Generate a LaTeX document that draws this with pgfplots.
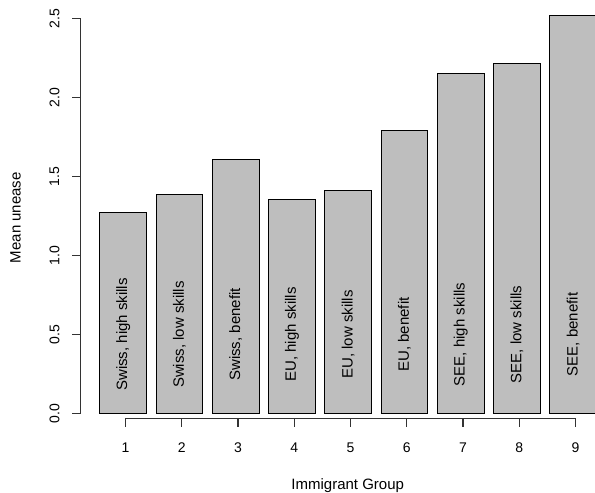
\documentclass[border=0pt]{standalone}
\usepackage{fontspec}
\setmainfont{Liberation Sans}
\usepackage{pgfplots}
\pgfplotsset{compat=1.18}
\definecolor{bargray}{HTML}{BEBEBE}
\definecolor{axisgray}{HTML}{333333}
\begin{document}
\begin{tikzpicture}
\path[use as bounding box, clip] (0,0) rectangle (595pt,493pt);
\begin{axis}[
  at={(80.5pt,79.5pt)}, anchor=south west,
  scale only axis, width=523.125pt, height=395pt,
  xmin=0.2, xmax=9.5, ymin=0, ymax=2.5,
  clip=false,
  axis x line*=bottom, axis y line*=left,
  axis line style={draw=none},
  tick style={draw=none},
  xtick={1,2,3,4,5,6,7,8,9}, xticklabels={1,2,3,4,5,6,7,8,9},
  ytick={0,0.5,1,1.5,2,2.5}, yticklabels={0.0,0.5,1.0,1.5,2.0,2.5},
  xticklabel style={font=\fontsize{14}{16}\selectfont, anchor=center, yshift=-34pt},
  yticklabel style={font=\fontsize{14}{16}\selectfont, xshift=-26pt, rotate=90, anchor=center},
  xlabel={Immigrant Group}, ylabel={Mean unease},
  every axis x label/.style={at={(axis description cs:0.5108,0)}, anchor=center, yshift=-72pt, font=\fontsize{15}{18}\selectfont},
  every axis y label/.style={at={([xshift=-65pt]axis description cs:0,0.496)}, anchor=center, rotate=90, font=\fontsize{15}{18}\selectfont},
]
\addplot[ybar, bar width=0.83, bar shift=0pt, fill=bargray, draw=black, line width=1pt]
  coordinates {(0.96,1.275) (1.96,1.387) (2.96,1.609) (3.96,1.356) (4.96,1.410)
               (5.96,1.790) (6.96,2.153) (7.96,2.218) (8.96,2.516)};
\begin{scope}[every node/.style={rotate=90, font=\fontsize{15}{18}\selectfont}]
\node at (axis cs:0.96,0.5) {Swiss, high skills};
\node at (axis cs:1.96,0.5) {Swiss, low skills};
\node at (axis cs:2.96,0.5) {Swiss, benefit};
\node at (axis cs:3.96,0.5) {EU, high skills};
\node at (axis cs:4.96,0.5) {EU, low skills};
\node at (axis cs:5.96,0.5) {EU, benefit};
\node at (axis cs:6.96,0.5) {SEE, high skills};
\node at (axis cs:7.96,0.5) {SEE, low skills};
\node at (axis cs:8.96,0.5) {SEE, benefit};
\end{scope}
\end{axis}
% axis lines and ticks (R style, x axis offset below the bars), as thin filled bands
\fill[axisgray] (124.8pt,73.8pt) rectangle (576.2pt,75.2pt);
\foreach \i in {0,...,8} {
  \fill[axisgray] ({124.8pt+\i*56.25pt},66pt) rectangle ({126.2pt+\i*56.25pt},75.2pt);
}
\fill[axisgray] (79.8pt,78.8pt) rectangle (81.2pt,475.2pt);
\foreach \j in {0,...,5} {
  \fill[axisgray] (72pt,{78.8pt+\j*79pt}) rectangle (81.2pt,{80.2pt+\j*79pt});
}
\end{tikzpicture}
\end{document}
